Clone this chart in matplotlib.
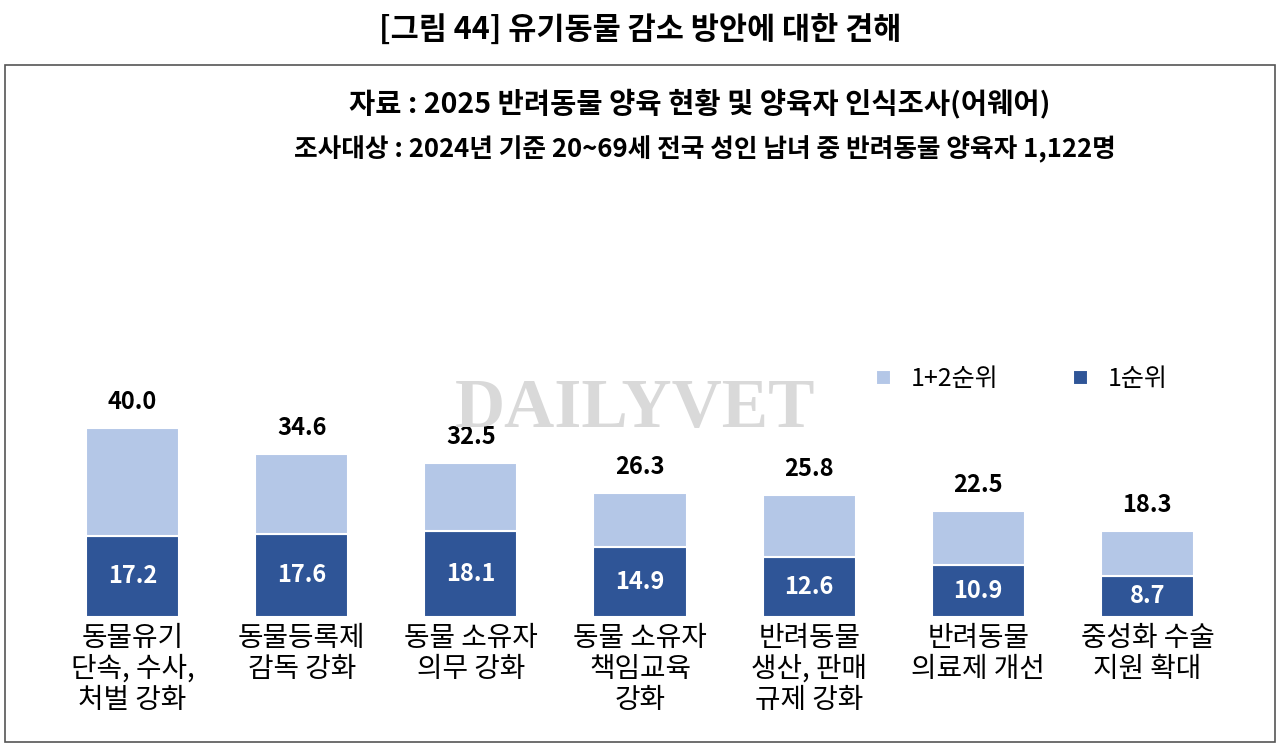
import matplotlib
matplotlib.use('Agg')
import matplotlib.pyplot as plt
from matplotlib.patches import Rectangle

plt.rcParams['font.family'] = ['Noto Sans CJK JP', 'Noto Sans CJK KR', 'Noto Sans CJK SC']

categories = ['동물유기\n단속, 수사,\n처벌 강화', '동물등록제\n감독 강화', '동물 소유자\n의무 강화',
              '동물 소유자\n책임교육\n강화', '반려동물\n생산, 판매\n규제 강화', '반려동물\n의료제 개선',
              '중성화 수술\n지원 확대']
first_rank = [17.2, 17.6, 18.1, 14.9, 12.6, 10.9, 8.7]
top_two = [40.0, 34.6, 32.5, 26.3, 25.8, 22.5, 18.3]

DARK = '#2F5597'
LIGHT = '#B4C7E7'

W, H = 1280, 747
fig = plt.figure(figsize=(W / 100, H / 100), dpi=100)

# frame
fig.patches.append(Rectangle((5 / W, 5 / H), 1270 / W, 677 / H, transform=fig.transFigure,
                             fill=False, edgecolor='#555555', lw=1.2))

fig.text(640 / W, 1 - 30 / H, '[그림 44] 유기동물 감소 방안에 대한 견해', ha='center', va='center',
         fontsize=22, fontweight='bold')
fig.text(700 / W, 1 - 103 / H, '자료 : 2025 반려동물 양육 현황 및 양육자 인식조사(어웨어)', ha='center',
         va='center', fontsize=20.5, fontweight='bold')
fig.text(705 / W, 1 - 150 / H, '조사대상 : 2024년 기준 20~69세 전국 성인 남녀 중 반려동물 양육자 1,122명',
         ha='center', va='center', fontsize=18.5, fontweight='bold')

# watermark, behind the bars
fig.text(635 / W, 1 - 410 / H, 'DAILYVET', ha='center', va='center', fontsize=50,
         family='Liberation Serif', fontweight='bold', color='#d9d9d9', zorder=0)

# axes: x 48..1232 px, baseline at 617 px, 4.725 px per unit
ax = fig.add_axes([48 / W, (H - 617) / H, 1184 / W, 417 / H])
ax.patch.set_alpha(0)
ymax = 417 / 4.725
ax.set_ylim(0, ymax)
ax.set_xlim(-0.5, len(categories) - 0.5)
ax.axis('off')

x = range(len(categories))
rest = [t - f for t, f in zip(top_two, first_rank)]
ax.bar(x, first_rank, width=0.55, color=DARK, edgecolor='white', lw=1.5, label='1순위', zorder=2)
ax.bar(x, rest, bottom=first_rank, width=0.55, color=LIGHT, edgecolor='white', lw=1.5,
       label='1+2순위', zorder=2)

for i, (f, t) in enumerate(zip(first_rank, top_two)):
    ax.text(i, f / 2, f'{f:.1f}', ha='center', va='center', color='white', fontsize=17,
            fontweight='bold')
    ax.text(i, t + 5.5, f'{t:.1f}', ha='center', va='center', color='black', fontsize=17,
            fontweight='bold')
    ax.text(i, -1.2, categories[i], ha='center', va='top', fontsize=20, linespacing=1.05,
            clip_on=False)

handles, labels = ax.get_legend_handles_labels()
ax.legend(handles[::-1], labels[::-1], loc='upper left', bbox_to_anchor=(0.68, 0.655), ncol=2,
          frameon=False, fontsize=18, handlelength=0.6, handleheight=0.6, columnspacing=3)

fig.savefig('out.png', dpi=100)
